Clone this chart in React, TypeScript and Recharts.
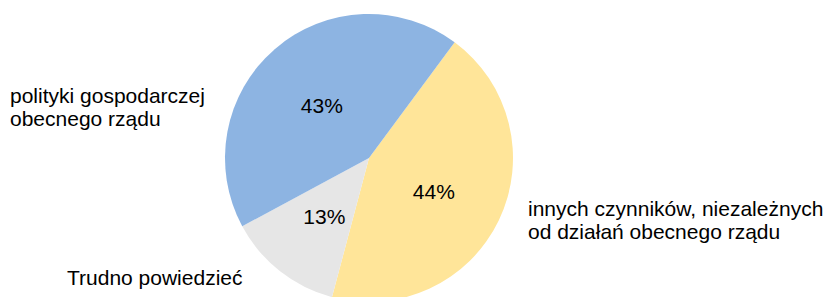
import { PieChart, Pie, Cell } from "recharts"

const categories = [
  ["innych czynników, niezależnych", "od działań obecnego rządu"],
  ["Trudno powiedzieć"],
  ["polityki gospodarczej", "obecnego rządu"],
]
const shares = [44, 13, 43]
const colors = ["#FFE599", "#E6E6E6", "#8DB4E2"]

const data = categories.map((lines, i) => ({ name: lines.join(" "), value: shares[i] }))

// where the outside category names sit, relative to the pie centre
const nameOffsets = [
  { dx: 159, dy: 58 },
  { dx: -302, dy: 127 },
  { dx: -359, dy: -55 },
]

const font = "'Liberation Sans', Arial, sans-serif"

function renderLabel(props: any) {
  const { cx, cy, midAngle, outerRadius, index, value } = props
  const rad = (Math.PI / 180) * midAngle
  const r = outerRadius * 0.5
  const x = cx + r * Math.cos(rad)
  const y = cy - r * Math.sin(rad) + 2
  const off = nameOffsets[index]
  return (
    <g>
      <text x={x} y={y} textAnchor="middle" dominantBaseline="central" fill="#000" fontSize={21} fontFamily={font}>
        {value}%
      </text>
      <text x={cx + off.dx} y={cy + off.dy} fill="#000" fontSize={21} fontFamily={font}>
        {categories[index].map((line, j) => (
          <tspan key={j} x={cx + off.dx} dy={j === 0 ? 0 : 23}>
            {line}
          </tspan>
        ))}
      </text>
    </g>
  )
}

export default function App() {
  return (
    <div style={{ position: "absolute", left: 0, top: 0, width: 832, height: 297, background: "#fff" }}>
      <PieChart width={832} height={297} margin={{ top: 0, right: 0, bottom: 0, left: 0 }}>
        <Pie
          data={data}
          dataKey="value"
          cx={369}
          cy={158}
          outerRadius={144}
          startAngle={53.5}
          endAngle={-306.5}
          stroke="none"
          label={renderLabel}
          labelLine={false}
          isAnimationActive={false}
        >
          {data.map((d, i) => (
            <Cell key={d.name} fill={colors[i]} />
          ))}
        </Pie>
      </PieChart>
    </div>
  )
}
